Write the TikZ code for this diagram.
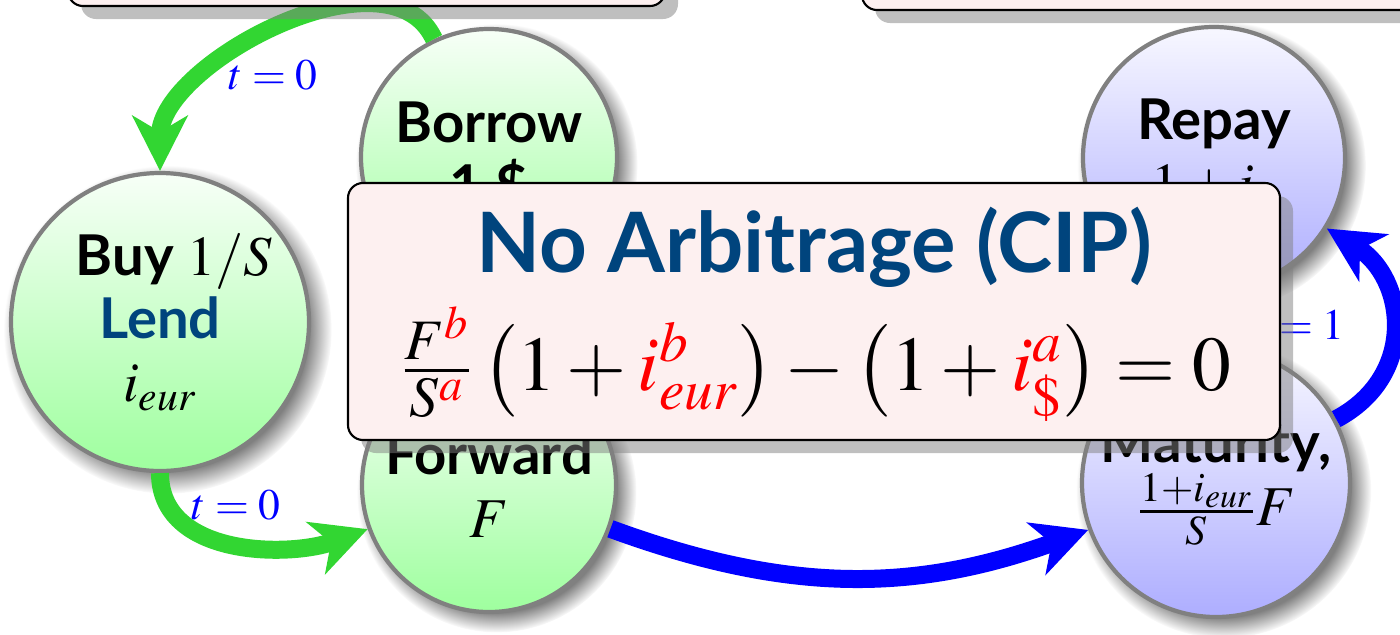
\documentclass[tikz,border=0pt]{standalone}
\usepackage{amsmath}
\usepackage{mathptmx}
\usepackage[no-math]{fontspec}
\setmainfont{Lato}
\usetikzlibrary{shadows,arrows.meta}
\definecolor{cipnavy}{RGB}{0,68,125}
\definecolor{flowgreen}{RGB}{50,214,50}
\definecolor{noteback}{RGB}{253,240,240}

\begin{document}
\begin{tikzpicture}[x=1cm,y=1cm,font=\fontsize{16}{18}\selectfont\bfseries,
  state/.style={circle,draw=gray,very thick,align=center,inner sep=0pt,
    circular drop shadow={shadow xshift=0.07cm,shadow yshift=-0.07cm,shadow scale=1.1}},
  nowstate/.style={state,top color=green!3,bottom color=green!38},
  laterstate/.style={state,top color=blue!3,bottom color=blue!32},
  flow/.style={line width=0.18cm,-{Stealth[length=0.55cm,width=0.55cm,inset=0.16cm]}},
  tlabel/.style={text=blue,font=\fontsize{12.4}{14}\selectfont},
  note/.style={draw=black,semithick,fill=noteback,rounded corners=0.15cm,
    drop shadow={shadow xshift=0.13cm,shadow yshift=-0.13cm}}]
\useasboundingbox (0,0) rectangle (14,6.34);
\node[nowstate,minimum size=2.98cm] (buy) at (1.6000,3.1200) {\hspace*{0.28cm}Buy $1/S$\\\textcolor{cipnavy}{Lend}\\$i_{eur}$};
\node[nowstate,minimum size=2.56cm] (borrow) at (4.8900,4.7700) {Borrow\\1 \$};
\node[nowstate,minimum size=2.54cm] (fwd) at (4.8900,1.4900) {Forward\\$F$};
\node[laterstate,minimum size=2.62cm] (repay) at (12.1400,4.7600) {Repay\\$1+i_\$$};
\node[laterstate,minimum size=2.68cm] (mature) at (12.1600,1.5100) {Maturity,\\$\frac{1+i_{eur}}{S}F$};
\draw[flow,flowgreen] (borrow) to[out=115,in=90,looseness=0.9] (buy);
\draw[flow,flowgreen] (buy) to[out=-90,in=200] (fwd);
\draw[flow,blue] (fwd) to[bend right=20] (mature);
\draw[flow,blue] (mature) to[out=28,in=-32,looseness=1.25] (repay);
\node[tlabel] (lab1) at (2.7300,5.5900) {$t=0$};
\node[tlabel] (lab2) at (2.3600,1.2900) {$t=0$};
\node[tlabel] (lab3) at (13.0000,3.0900) {$t=1$};
\draw[note] (0.6800,6.2800) rectangle (6.6500,7.5000);
\draw[note] (8.6200,6.2400) rectangle (15.5000,7.5000);
\node[note,minimum width=9.32cm,minimum height=2.57cm,inner sep=0pt] (cip) at (8.1400,3.2250) {};
\node[anchor=base,text=cipnavy,font=\fontsize{23.7}{28}\selectfont\bfseries] (ciptitle) at (8.1400,3.6200) {No Arbitrage (CIP)};
\node[anchor=base,font=\fontsize{22}{26}\selectfont] (cipeq) at (8.1600,2.4400)
  {$\frac{F^{\color{red}b}}{S^{\color{red}a}}\left(1+{\color{red}i^b_{eur}}\right)-\left(1+{\color{red}i^a_\$}\right)=0$};
\end{tikzpicture}
\end{document}
